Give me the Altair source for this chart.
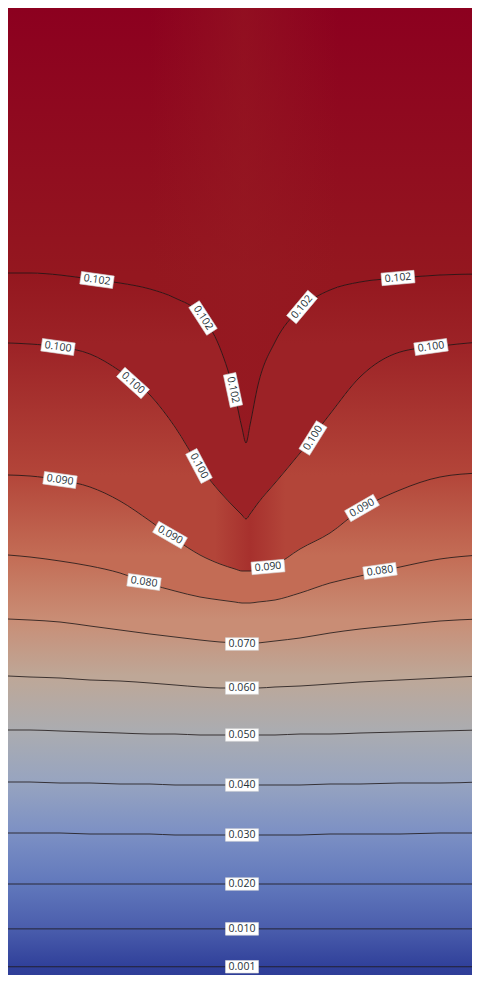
import altair as alt
import pandas as pd

# Sample positions across the domain (same for every contour line)
XS = [8, 30, 60, 90, 120, 150, 175, 200, 220, 235, 242, 246, 250, 258, 275, 300, 330, 360, 400, 440, 480]

# Contour lines: depth position read at each XS
Y_0102 = [273, 273, 275, 279, 283, 289, 298, 314, 348, 396, 428, 443, 425, 385, 342, 309, 290, 282, 278, 275, 274]
Y_0100 = [343, 344, 347, 354, 371, 395, 427, 467, 492, 508, 515, 519, 514, 503, 483, 453, 414, 377, 352, 346, 342]
Y_0090 = [475, 476, 480, 487, 501, 521, 539, 555, 564, 569, 571, 571, 571, 570, 565, 549, 533, 510, 490, 477, 473]
Y_0080 = [555, 557, 561, 566, 573, 584, 591, 597, 600, 602, 603, 603, 603, 602, 600, 593, 583, 576, 567, 559, 555]
Y_0070 = [619, 620, 622, 626, 630, 634, 637, 640, 642, 643, 644, 644, 644, 643, 641, 638, 633, 629, 625, 621, 619]
Y_0060 = [676, 677, 678, 680, 681, 683, 685, 687, 688, 688, 688, 688, 688, 688, 687, 686, 684, 682, 680, 678, 676]
Y_0050 = [730, 730, 731, 732, 733, 734, 734, 735, 735, 735, 735, 735, 735, 735, 735, 734, 734, 733, 732, 731, 730]
Y_0040 = [782, 782, 783, 783, 784, 784, 785, 785, 785, 785, 785, 785, 785, 785, 785, 785, 784, 784, 783, 783, 782]
Y_0030 = [833, 833, 833, 834, 834, 834, 835, 835, 835, 835, 835, 835, 835, 835, 835, 835, 834, 834, 834, 833, 833]
Y_0020 = [884, 884, 884, 884, 884, 884, 884, 884, 884, 884, 884, 884, 884, 884, 884, 884, 884, 884, 884, 884, 884]
Y_0010 = [934, 934, 934, 934, 934, 934, 934, 934, 934, 934, 934, 934, 934, 934, 934, 934, 934, 934, 934, 934, 934]
Y_0001 = [980, 980, 980, 980, 980, 980, 980, 980, 980, 980, 980, 980, 980, 980, 980, 980, 980, 980, 980, 980, 980]

LEVELS = ["0.102", "0.100", "0.090", "0.080", "0.070", "0.060", "0.050",
          "0.040", "0.030", "0.020", "0.010", "0.001"]
CONTOURS = [Y_0102, Y_0100, Y_0090, Y_0080, Y_0070, Y_0060, Y_0050,
            Y_0040, Y_0030, Y_0020, Y_0010, Y_0001]

# Colour of the field at each level (cool-to-warm map)
TOP_COLOR = "#8c001f"
LEVEL_COLORS = ["#94171f", "#9c2226", "#b34539", "#c36c55", "#c98d75", "#bea797",
                "#abacb0", "#97a4c0", "#7c90c4", "#6178bc", "#4a5dac", "#30409a"]
BOTTOM_COLOR = "#2c3a94"

# Contour labels
LABEL_TEXT = ["0.102", "0.102", "0.102", "0.102", "0.102",
              "0.100", "0.100", "0.100", "0.100", "0.100",
              "0.090", "0.090", "0.090", "0.090",
              "0.080", "0.080",
              "0.070", "0.060", "0.050", "0.040", "0.030", "0.020", "0.010", "0.001"]
LABEL_X = [97, 203, 233, 302, 398,
           58, 133, 199, 313, 431,
           60, 170, 268, 362,
           144, 380,
           242, 242, 242, 242, 242, 242, 242, 242]
LABEL_Y = [280, 318, 390, 307, 278,
           347, 383, 466, 438, 347,
           480, 535, 567, 508,
           582, 571,
           644, 688, 735, 785, 835, 884, 934, 980]
LABEL_ANGLE = [8, 57, 78, 310, 355,
               8, 42, 62, 302, 352,
               8, 30, 355, 330,
               8, 352,
               0, 0, 0, 0, 0, 0, 0, 0]

X_MIN, X_MAX = 8, 472
Y_MIN, Y_MID, Y_MAX = 8, 905, 990
W, H = 464, 967

xs = alt.Scale(domain=[X_MIN, X_MAX], nice=False, zero=False)
ys = alt.Scale(domain=[Y_MIN, Y_MID, Y_MAX], range=[0, Y_MID - Y_MIN, H],
               nice=False, zero=False)


def grad_v(stops):
    return alt.Gradient(gradient="linear", x1=0, x2=0, y1=0, y2=1,
                        stops=[alt.GradientStop(color=c, offset=o) for o, c in stops])


def grad_h(stops):
    return alt.Gradient(gradient="linear", x1=0, x2=1, y1=0, y2=0,
                        stops=[alt.GradientStop(color=c, offset=o) for o, c in stops])


def band(df, fill, stroke=None):
    kw = {"color": fill, "interpolate": "monotone", "clip": True}
    if stroke is not None:
        kw.update(stroke=stroke, strokeWidth=0.8)
    return alt.Chart(df).mark_area(**kw).encode(
        x=alt.X("x:Q", scale=xs, axis=None),
        y=alt.Y("y_top:Q", scale=ys, axis=None),
        y2="y_bot:Q",
    )


# ---- background bands between consecutive contours ----
bounds = [[Y_MIN] * len(XS)] + CONTOURS + [[Y_MAX + 20] * len(XS)]
colors = [TOP_COLOR] + LEVEL_COLORS + [BOTTOM_COLOR]

layers = []
for b in range(len(bounds) - 1):
    up, lo = bounds[b], bounds[b + 1]
    top, bot = min(up), max(lo)
    f_edge = min(1.0, max(0.05, (max(lo[0], lo[-1]) - top) / (bot - top)))
    g = grad_v([(0, colors[b]), (f_edge, colors[b + 1]), (1, colors[b + 1])])
    layers.append(band(pd.DataFrame({"x": XS, "y_top": up, "y_bot": lo}), g, g))

# faint lighter streak along the axis in the top region
streak = band(
    pd.DataFrame({"x": XS, "y_top": [Y_MIN] * len(XS), "y_bot": Y_0102}),
    grad_h([(0.3, "rgba(150,26,34,0)"), (0.5, "rgba(150,26,34,0.55)"), (0.7, "rgba(150,26,34,0)")]),
)

# darker core just below the tip of the V
core = band(
    pd.DataFrame({"x": XS[7:16], "y_top": Y_0100[7:16], "y_bot": Y_0090[7:16]}),
    grad_h([(0.15, "rgba(160,38,40,0)"), (0.5, "rgba(162,40,40,0.7)"), (0.85, "rgba(160,38,40,0)")]),
)

# ---- contour lines ----
line_rows = []
for lev, ys_ in zip(LEVELS, CONTOURS):
    for x, y in zip(XS, ys_):
        line_rows.append({"level": lev, "x": x, "y": y})
lines_df = pd.DataFrame(line_rows)
lines = alt.Chart(lines_df).mark_line(color="#1c1414", strokeWidth=1, opacity=0.8,
                                      interpolate="monotone", clip=True).encode(
    x=alt.X("x:Q", scale=xs, axis=None),
    y=alt.Y("y:Q", scale=ys, axis=None),
    detail="level:N",
)

# ---- labels ----
lab_df = pd.DataFrame({"text": LABEL_TEXT, "x": LABEL_X, "y": LABEL_Y, "angle": LABEL_ANGLE})
boxes = alt.Chart(lab_df).mark_point(
    shape="M-1,-0.38H1V0.38H-1Z", filled=True, fill="white", fillOpacity=1,
    stroke="#d8d8d8", strokeWidth=0.6, size=1089, opacity=1, clip=True,
).encode(
    x=alt.X("x:Q", scale=xs, axis=None),
    y=alt.Y("y:Q", scale=ys, axis=None),
    angle=alt.Angle("angle:Q", scale=None),
)
texts = alt.Chart(lab_df).mark_text(
    font="Open Sans", fontSize=10.5, color="#263238", align="center", baseline="middle",
).encode(
    x=alt.X("x:Q", scale=xs, axis=None),
    y=alt.Y("y:Q", scale=ys, axis=None),
    angle=alt.Angle("angle:Q", scale=None),
    text="text:N",
)

chart = alt.layer(*layers, streak, core, lines, boxes, texts).properties(
    width=W, height=H,
    padding=0, autosize=alt.AutoSizeParams(type="none"), background="white",
).configure_view(stroke=None, clip=True)

chart.save("out.html", embed_options={"renderer": "svg", "actions": False})
